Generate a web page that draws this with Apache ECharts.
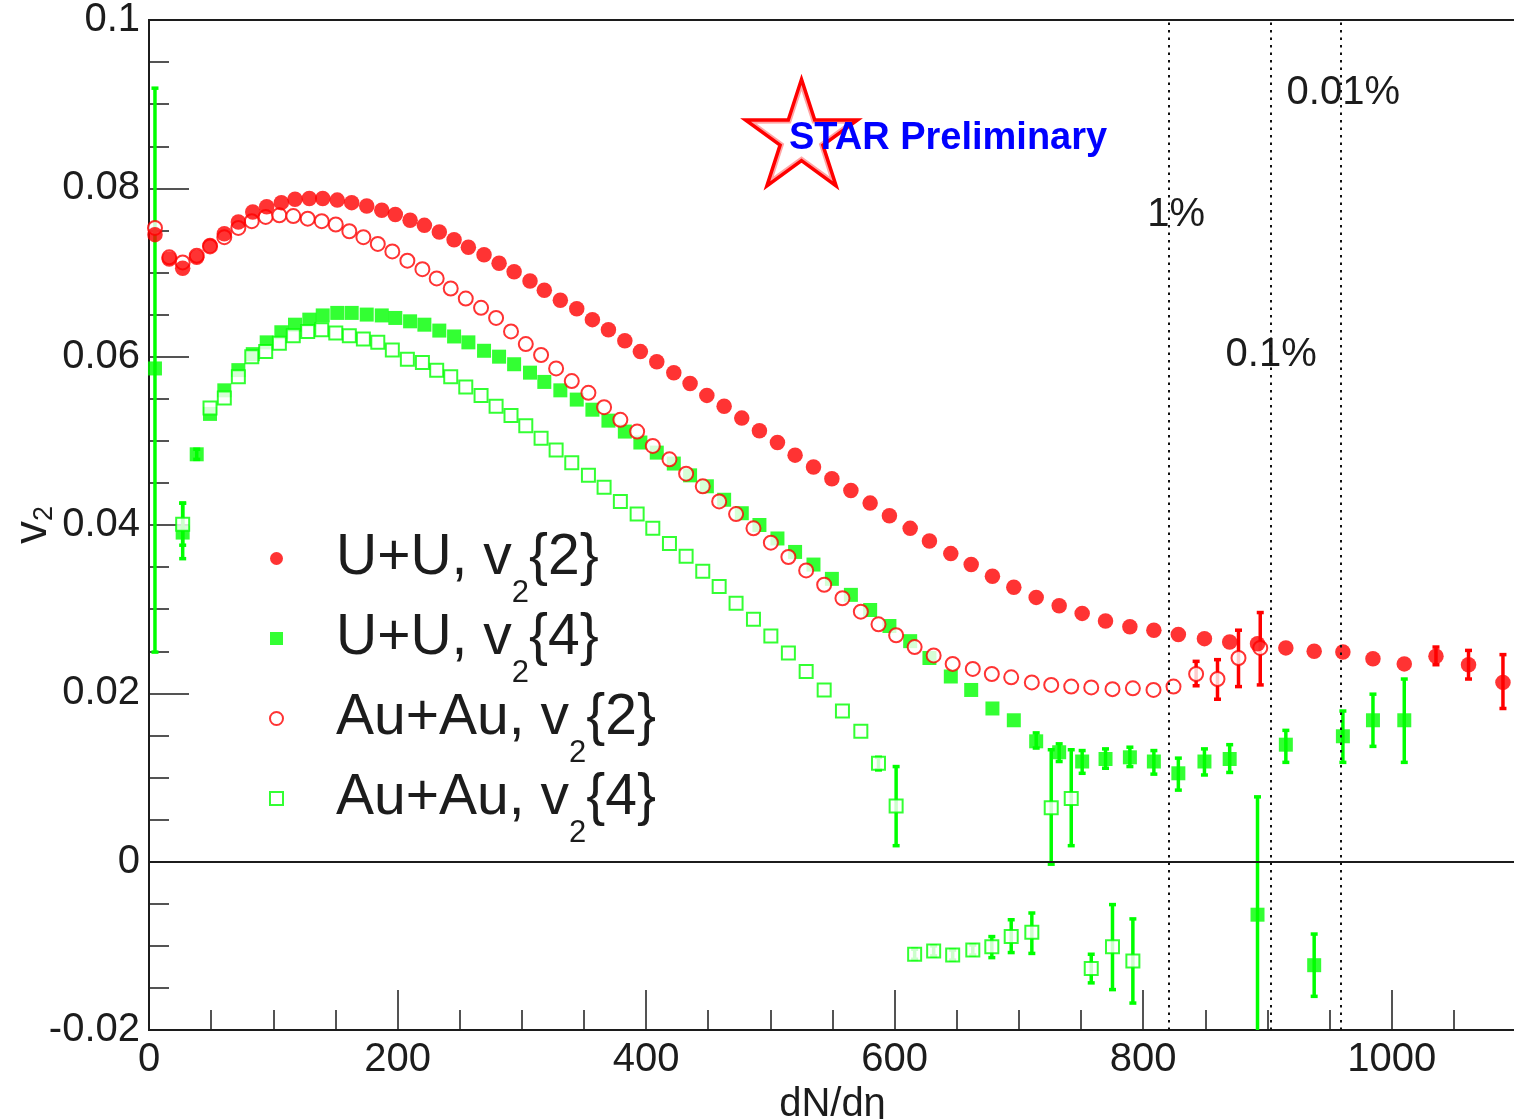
<!DOCTYPE html>
<html>
<head>
<meta charset="utf-8">
<title>v2 vs dN/deta: U+U and Au+Au</title>
<script src="https://cdn.jsdelivr.net/npm/echarts@6/dist/echarts.min.js"></script>
<style>
  html, body { margin: 0; padding: 0; background: #ffffff; }
  #chart { width: 1514px; height: 1119px; }
</style>
</head>
<body>
<div id="chart"></div>
<script>
// ---- measured values -------------------------------------------------------
// U+U multiplicity bins (dN/deta)
const uuMult = [4.8, 16.3, 27.1, 38.4, 49.1, 60.6, 71.9, 83.5, 94.7, 106.5,
  117.5, 129.0, 139.8, 151.5, 163.1, 175.2, 187.3, 198.2, 210.1, 221.6,
  233.6, 245.5, 257.0, 269.6, 281.7, 293.8, 306.6, 318.1, 331.0, 344.2,
  356.8, 369.7, 382.9, 395.4, 408.6, 422.3, 435.4, 448.9, 462.8, 477.0,
  491.2, 505.7, 519.9, 534.7, 549.5, 564.8, 580.3, 595.8, 612.5, 628.0,
  645.2, 661.6, 678.7, 695.9, 713.9, 732.4, 750.9, 769.7, 789.3, 808.6,
  828.3, 849.3, 869.6, 892.0, 914.8, 937.6, 960.7, 984.9, 1010.1, 1035.6,
  1061.8, 1089.5];

// U+U v2{2}
const uuV2two = [0.0745, 0.0716, 0.0705, 0.0718, 0.0732, 0.0746, 0.0760, 0.0772, 0.0778, 0.0783,
  0.0787, 0.0788, 0.0788, 0.0786, 0.0783, 0.0779, 0.0774, 0.0769, 0.0762, 0.0756,
  0.0748, 0.0739, 0.0730, 0.0721, 0.0711, 0.0701, 0.0690, 0.0679, 0.0667, 0.0657,
  0.0644, 0.0632, 0.0619, 0.0606, 0.0594, 0.0581, 0.0568, 0.0554, 0.0541, 0.0527,
  0.0512, 0.0498, 0.0483, 0.0469, 0.0455, 0.0441, 0.0426, 0.0411, 0.0396, 0.0381,
  0.0366, 0.0353, 0.0339, 0.0326, 0.0314, 0.0304, 0.0295, 0.0286, 0.0279, 0.0275,
  0.0270, 0.0265, 0.0261, 0.0259, 0.0254, 0.0250, 0.0249, 0.0241, 0.0235, 0.0244,
  0.0234, 0.0213];

// U+U v2{4}
const uuV2four = [0.0586, null, 0.0391, 0.0484, 0.0532, 0.0560, 0.0584, 0.0603, 0.0617, 0.0629,
  0.0638, 0.0644, 0.0649, 0.0652, 0.0652, 0.0650, 0.0649, 0.0646, 0.0642, 0.0638,
  0.0631, 0.0624, 0.0617, 0.0607, 0.0600, 0.0591, 0.0581, 0.0570, 0.0560, 0.0549,
  0.0537, 0.0524, 0.0511, 0.0498, 0.0486, 0.0473, 0.0459, 0.0446, 0.0430, 0.0414,
  0.0400, 0.0384, 0.0368, 0.0353, 0.0336, 0.0317, 0.0299, 0.0280, 0.0262, 0.0242,
  0.0220, 0.0204, 0.0182, 0.0168, 0.0143, 0.0130, 0.0119, 0.0122, 0.0124, 0.0119,
  0.0105, 0.0119, 0.0122, -0.0063, 0.0139, -0.0123, 0.0149, 0.0168, 0.0168, null,
  null, null];

// Au+Au multiplicity bins (dN/deta)
const auMult = [4.8, 16.3, 27.1, 38.4, 49.1, 60.6, 71.9, 82.7, 93.9, 104.9,
  116.1, 127.7, 139.0, 150.3, 161.2, 172.5, 184.1, 195.8, 207.9, 220.0,
  231.5, 242.8, 254.9, 267.2, 279.3, 291.3, 303.2, 315.5, 327.6, 340.2,
  353.6, 366.2, 379.3, 392.8, 405.4, 418.8, 432.2, 445.6, 458.8, 472.4,
  486.4, 500.4, 514.5, 528.8, 543.3, 558.0, 572.8, 587.0, 601.2, 616.1,
  631.4, 646.7, 662.9, 678.2, 693.8, 710.4, 726.0, 742.1, 758.2, 775.3,
  791.7, 808.3, 824.4, 842.6, 859.8, 876.7, 894.2];

// Au+Au v2{2}
const auV2two = [0.0753, 0.0718, 0.0712, 0.0720, 0.0731, 0.0742, 0.0753, 0.0761, 0.0766, 0.0768,
  0.0767, 0.0764, 0.0761, 0.0757, 0.0749, 0.0742, 0.0734, 0.0725, 0.0714, 0.0704,
  0.0693, 0.0681, 0.0669, 0.0658, 0.0646, 0.0630, 0.0615, 0.0602, 0.0586, 0.0571,
  0.0557, 0.0540, 0.0525, 0.0511, 0.0494, 0.0478, 0.0461, 0.0446, 0.0428, 0.0413,
  0.0396, 0.0379, 0.0362, 0.0346, 0.0329, 0.0313, 0.0297, 0.0282, 0.0269, 0.0255,
  0.0245, 0.0235, 0.0229, 0.0223, 0.0219, 0.0213, 0.0210, 0.0208, 0.0207, 0.0205,
  0.0206, 0.0204, 0.0208, 0.0223, 0.0217, 0.0242, 0.0254];

// Au+Au v2{4}
const auV2four = [null, null, 0.0401, null, 0.0539, 0.0551, 0.0576, 0.0600, 0.0606, 0.0616,
  0.0625, 0.0630, 0.0632, 0.0628, 0.0625, 0.0621, 0.0617, 0.0608, 0.0597, 0.0593,
  0.0584, 0.0576, 0.0564, 0.0554, 0.0541, 0.0530, 0.0518, 0.0503, 0.0489, 0.0474,
  0.0459, 0.0445, 0.0428, 0.0413, 0.0396, 0.0378, 0.0363, 0.0345, 0.0327, 0.0307,
  0.0288, 0.0268, 0.0248, 0.0226, 0.0204, 0.0179, 0.0155, 0.0117, 0.0066, -0.0110,
  -0.0106, -0.0111, -0.0105, -0.0101, -0.0089, -0.0084, 0.0064, 0.0075, -0.0127, -0.0101,
  -0.0118, null, null, null, null, null, null];

// statistical error bars: [dN/deta, low, high]
const uuV2twoErr = [[1035.6, 0.0234, 0.0255], [1061.8, 0.0217, 0.0251], [1089.5, 0.0182, 0.0246]];
const uuV2fourErr = [[4.8, 0.0249, 0.0919], [27.1, 0.0360, 0.0426], [38.4, 0.0478, 0.0490],
  [713.9, 0.0135, 0.0153], [732.4, 0.0119, 0.0140], [750.9, 0.0105, 0.0132],
  [769.7, 0.0111, 0.0134], [789.3, 0.0113, 0.0136], [808.6, 0.0104, 0.0132],
  [828.3, 0.0085, 0.0123], [849.3, 0.0103, 0.0134], [869.6, 0.0106, 0.0139],
  [892.0, -0.0210, 0.0077], [914.8, 0.0118, 0.0156], [937.6, -0.0160, -0.0086],
  [960.7, 0.0118, 0.0179], [984.9, 0.0137, 0.0199], [1010.1, 0.0118, 0.0217]];
const auV2twoErr = [[842.6, 0.0209, 0.0238], [859.8, 0.0193, 0.0240],
  [876.7, 0.0208, 0.0275], [894.2, 0.0210, 0.0296]];
const auV2fourErr = [[27.1, 0.0376, 0.0426], [587.0, 0.0109, 0.0124], [601.2, 0.0019, 0.0113],
  [616.1, -0.0116, -0.0104], [631.4, -0.0112, -0.0100], [646.7, -0.0117, -0.0105],
  [662.9, -0.0111, -0.0099], [678.2, -0.0114, -0.0089], [693.8, -0.0108, -0.0069],
  [710.4, -0.0109, -0.0061], [726.0, -0.0003, 0.0133], [742.1, 0.0019, 0.0133],
  [758.2, -0.0144, -0.0110], [775.3, -0.0152, -0.0051], [791.7, -0.0168, -0.0068]];

// centrality boundaries (dN/deta) and their labels
const centralityEdges = [820.9, 903.0, 958.6];
const centralityLabels = [
  { text: '1%', x: 826.6, y: 0.0768 },
  { text: '0.1%', x: 903.0, y: 0.0602 },
  { text: '0.01%', x: 961.0, y: 0.0913 }
];

// x / y axis ranges
const xRange = [0, 1100];
const yRange = [-0.02, 0.1];

// ---- styling ---------------------------------------------------------------
const FONT = '"Liberation Sans", Arial, Helvetica, sans-serif';
const INK = '#1c1c1c';
const RED = '#ff0000';
const GREEN = '#00ff00';

const pairs = (xs, ys) => xs.map((x, i) => (ys[i] == null ? null : [x, ys[i]])).filter(Boolean);

function errorBars(name, rows, color) {
  return {
    type: 'custom',
    name: name,
    clip: true,
    silent: true,
    data: rows,
    encode: { x: 0, y: [1, 2] },
    renderItem(params, api) {
      const x = api.value(0);
      const lo = api.coord([x, api.value(1)]);
      const hi = api.coord([x, api.value(2)]);
      const cap = 3.5;
      const style = { stroke: color, lineWidth: 3.5 };
      return {
        type: 'group',
        children: [
          { type: 'line', shape: { x1: lo[0], y1: lo[1], x2: hi[0], y2: hi[1] }, style: style },
          { type: 'line', shape: { x1: lo[0] - cap, y1: lo[1], x2: lo[0] + cap, y2: lo[1] }, style: style },
          { type: 'line', shape: { x1: hi[0] - cap, y1: hi[1], x2: hi[0] + cap, y2: hi[1] }, style: style }
        ]
      };
    }
  };
}

function starPoints(cx, cy, R, r) {
  const pts = [];
  for (let i = 0; i < 10; i++) {
    const a = -Math.PI / 2 + i * Math.PI / 5;
    const rad = i % 2 ? r : R;
    pts.push([cx + rad * Math.cos(a), cy + rad * Math.sin(a)]);
  }
  return pts;
}

// legend text: the closing brace sits outside the rich tokens, so the base style
// carries the large font as well; the subscript is pushed down with top padding
const legendRich = {
  a: { fontSize: 57, lineHeight: 80, fontFamily: FONT, color: INK },
  s: { fontSize: 31, lineHeight: 10, padding: [70, 0, 0, 0], fontFamily: FONT, color: INK }
};

const tickFmt = v => String(parseFloat(v.toFixed(3)));

const chart = echarts.init(document.getElementById('chart'), null, { renderer: 'canvas' });

chart.setOption({
  animation: false,
  backgroundColor: '#ffffff',
  grid: {
    left: 149, top: 20, width: 1367, height: 1010,
    containLabel: false, outerBoundsMode: 'none',
    show: true, borderColor: INK, borderWidth: 2, backgroundColor: 'transparent'
  },
  xAxis: [
    {
      type: 'value', min: xRange[0], max: xRange[1], interval: 200, position: 'bottom',
      axisLine: { show: true, onZero: false, lineStyle: { color: INK, width: 2 } },
      axisTick: { show: true, inside: true, length: 40, lineStyle: { color: INK, width: 1.5 } },
      axisLabel: {
        fontSize: 40, color: INK, fontFamily: FONT, margin: 10, showMaxLabel: false,
        formatter: v => (v > 1000 ? '' : String(v))
      },
      splitLine: { show: false },
      name: 'dN/dη', nameLocation: 'middle', nameGap: 42,
      nameTextStyle: { fontSize: 40, color: INK, fontFamily: FONT, verticalAlign: 'top' }
    },
    {
      type: 'value', min: xRange[0], max: xRange[1], interval: 50, position: 'bottom', offset: 0,
      axisLine: { show: false, onZero: false },
      axisTick: { show: true, inside: true, length: 20, lineStyle: { color: INK, width: 1.5 } },
      axisLabel: { show: false },
      splitLine: { show: false }
    }
  ],
  yAxis: {
    type: 'value', min: yRange[0], max: yRange[1], interval: 0.02,
    axisLine: { show: true, onZero: false, lineStyle: { color: INK, width: 2 } },
    axisTick: { show: true, inside: true, length: 40, lineStyle: { color: INK, width: 1.5 } },
    minorTick: { show: true, splitNumber: 4, length: 20, lineStyle: { color: INK, width: 1.5 } },
    axisLabel: { fontSize: 40, color: INK, fontFamily: FONT, margin: 9, formatter: tickFmt },
    splitLine: { show: false },
    name: '{v|v}{s|2}', nameLocation: 'middle', nameRotate: 90, nameGap: 116,
    nameMoveOverlap: false,
    nameTextStyle: {
      align: 'center', verticalAlign: 'middle',
      rich: {
        v: { fontSize: 46, lineHeight: 50, fontFamily: FONT, color: INK },
        s: { fontSize: 27, lineHeight: 10, verticalAlign: 'bottom', fontFamily: FONT, color: INK }
      }
    }
  },
  legend: {
    orient: 'vertical', left: 269, top: 508, padding: 0, itemGap: -21,
    itemWidth: 13, itemHeight: 13, selectedMode: false,
    data: ['U+U, v2{2}', 'U+U, v2{4}', 'Au+Au, v2{2}', 'Au+Au, v2{4}'],
    formatter: name => {
      const m = name.match(/^(.*), v2\{(\d)\}$/);
      return '{a|' + m[1] + ', v}{s|2}{a|{' + m[2] + '}}';
    },
    textStyle: {
      fontSize: 57, lineHeight: 80, fontFamily: FONT, color: INK,
      padding: [0, 0, 0, 48], rich: legendRich
    }
  },
  graphic: [
    {
      type: 'polygon', z: 50,
      shape: { points: starPoints(801.5, 138.2, 58.9, 22.5) },
      style: { fill: '#ffffff', stroke: RED, lineWidth: 3.5, lineJoin: 'miter' }
    },
    {
      type: 'polygon', z: 50,
      shape: { points: starPoints(801.5, 138.2, 52, 20) },
      style: { fill: 'none', stroke: 'rgba(255,0,0,0.35)', lineWidth: 3 }
    },
    {
      type: 'text', z: 51, left: 789, top: 120,
      style: { text: 'STAR Preliminary', font: 'bold 38px ' + FONT, fill: '#0000ff' }
    }
  ],
  series: [
    {
      type: 'scatter', name: 'boundaries', silent: true, z: 1,
      symbolSize: 1, itemStyle: { color: 'rgba(0,0,0,0)' },
      data: centralityLabels.map(l => ({ name: l.text, value: [l.x, l.y] })),
      label: {
        show: true, position: 'inside', formatter: p => p.name, opacity: 1,
        fontSize: 40, color: INK, fontFamily: FONT, textBorderWidth: 0
      },
      emphasis: { disabled: true },
      markLine: {
        silent: true, symbol: ['none', 'none'], label: { show: false },
        data: [{ yAxis: 0, lineStyle: { type: 'solid', width: 2, color: INK } }]
          .concat(centralityEdges.map(x => ({ xAxis: x, lineStyle: { type: [2.5, 5], width: 2, color: '#111' } })))
      }
    },
    errorBars('U+U v2{4} stat', uuV2fourErr, GREEN),
    errorBars('Au+Au v2{4} stat', auV2fourErr, GREEN),
    errorBars('Au+Au v2{2} stat', auV2twoErr, RED),
    errorBars('U+U v2{2} stat', uuV2twoErr, RED),
    {
      type: 'scatter', name: 'U+U, v2{4}', symbol: 'rect', symbolSize: 14,
      itemStyle: { color: GREEN }, data: pairs(uuMult, uuV2four)
    },
    {
      type: 'scatter', name: 'Au+Au, v2{4}', symbol: 'emptyRect', symbolSize: 13,
      itemStyle: { color: GREEN, borderColor: GREEN, borderWidth: 2 }, data: pairs(auMult, auV2four)
    },
    {
      type: 'scatter', name: 'Au+Au, v2{2}', symbol: 'emptyCircle', symbolSize: 14,
      itemStyle: { color: RED, borderColor: RED, borderWidth: 2 }, data: pairs(auMult, auV2two)
    },
    {
      type: 'scatter', name: 'U+U, v2{2}', symbol: 'circle', symbolSize: 15.5,
      itemStyle: { color: RED }, data: pairs(uuMult, uuV2two)
    }
  ]
});
</script>
</body>
</html>
